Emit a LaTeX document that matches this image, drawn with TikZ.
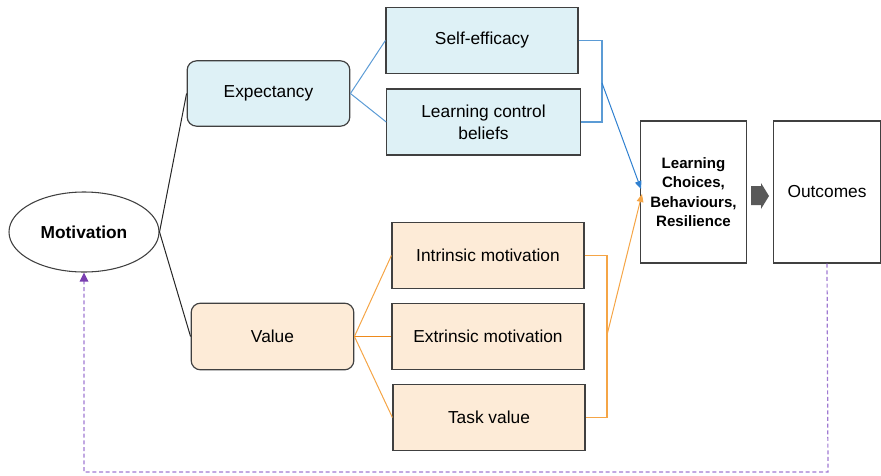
\documentclass[tikz,border=0pt]{standalone}
\usepackage{fontspec}
\setmainfont{Liberation Sans}
\usetikzlibrary{shapes.geometric,arrows.meta}
\definecolor{bluefill}{HTML}{DEF1F6}
\definecolor{orangefill}{HTML}{FDEBD7}
\definecolor{boxborder}{HTML}{404040}
\definecolor{blueline}{HTML}{5B9BD5}
\definecolor{bluearrow}{HTML}{2F80D0}
\definecolor{orangeline}{HTML}{F5A546}
\definecolor{orangedark}{HTML}{EE8A1C}
\definecolor{purpleline}{HTML}{A07AD2}
\definecolor{purplehead}{HTML}{7A3FB0}
\definecolor{blockgray}{HTML}{595959}
\begin{document}
\begin{tikzpicture}[x=0.75pt,y=-0.75pt,
  box/.style={draw=boxborder,line width=0.9pt,rectangle,align=center,inner sep=2pt,
     font=\fontsize{13}{16.5}\selectfont},
  bluebox/.style={box,fill=bluefill},
  orangebox/.style={box,fill=orangefill},
  whitebox/.style={box,fill=white},
  blackline/.style={draw=black!85,line width=0.75pt},
  bluel/.style={draw=blueline,line width=0.75pt},
  orangel/.style={draw=orangeline,line width=0.75pt},
  bracketb/.style={draw=blueline,line width=1pt},
  bracketo/.style={draw=orangeline,line width=1pt},
  fb/.style={draw=purpleline,line width=0.9pt,dash pattern=on 3pt off 2pt}
]
\useasboundingbox (0,0) rectangle (881,475);
% nodes
\node[draw=boxborder,line width=0.8pt,ellipse,fill=white,minimum width=112.5pt,minimum height=60pt,
  inner sep=0pt,font=\fontsize{13}{16}\selectfont\bfseries] (mot) at (84,232) {Motivation};
\node[bluebox,rounded corners=7pt,minimum width=122pt,minimum height=49pt] (exp) at (268.5,93.5) {Expectancy};
\node[orangebox,rounded corners=7pt,minimum width=122pt,minimum height=50pt] (val) at (272.5,336.5) {Value};
\node[bluebox,minimum width=144pt,minimum height=50pt] (se) at (482,40.5) {Self-efficacy};
\node[bluebox,minimum width=145pt,minimum height=49.5pt] (lcb) at (483.5,122) {Learning control\\beliefs};
\node[orangebox,minimum width=144pt,minimum height=50pt] (im) at (488,255.5) {Intrinsic motivation};
\node[orangebox,minimum width=144pt,minimum height=50pt] (em) at (488,336.5) {Extrinsic motivation};
\node[orangebox,minimum width=144pt,minimum height=50pt] (tv) at (489,417.5) {Task value};
\node[whitebox,minimum width=79pt,minimum height=106.5pt,
  font=\fontsize{11.3}{14.6}\selectfont\bfseries] (lc) at (693.5,192) {Learning\\Choices,\\Behaviours,\\Resilience};
\node[whitebox,minimum width=80pt,minimum height=106.5pt] (out) at (827,192) {Outcomes};
% block arrow
\fill[blockgray] (751,186) -- (761,186) -- (761,183) -- (769,196) -- (761,209) -- (761,205) -- (751,205) -- cycle;
% coordinates
\coordinate (bj) at (602,83);
\coordinate (oj) at (607,335);
\coordinate (ta) at (641,189);
\coordinate (tb) at (642,194);
\coordinate (pb) at (828,472);
% connectors
\draw[blackline] (mot.east) -- (exp.west);
\draw[blackline] (mot.east) -- (val.west);
\draw[bluel] (exp.east) -- (se.west);
\draw[bluel] (exp.east) -- (lcb.west);
\draw[bracketb] (se.east) -| (bj) |- (lcb.east);
\draw[draw=bluearrow,line width=0.75pt,-{Triangle[length=6pt,width=5pt]}] (bj) -- (ta);
\draw[orangel] (val.east) -- (im.west);
\draw[draw=orangedark,line width=0.75pt] (val.east) -- (em.west);
\draw[orangel] (val.east) -- (tv.west);
\draw[bracketo] (im.east) -| (oj) |- (tv.east);
\draw[orangel,-{Triangle[length=6pt,width=5pt]}] (oj) -- (tb);
\draw[fb] (out.south) -- (pb) -| ([yshift=-6pt]mot.south);
\fill[purplehead] (mot.south) -- ++(-4.5,9) -- ++(9,0) -- cycle;
\end{tikzpicture}
\end{document}
